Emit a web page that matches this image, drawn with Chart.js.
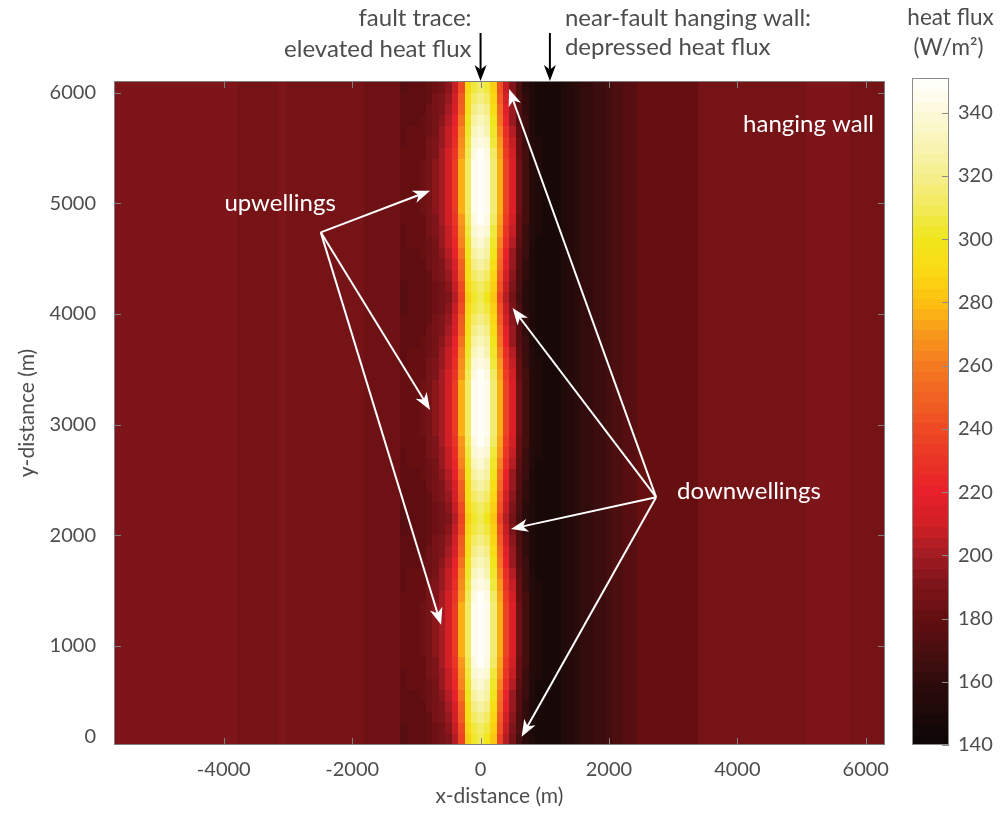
<!DOCTYPE html>
<html>
<head>
<meta charset="utf-8">
<script src="https://cdn.jsdelivr.net/npm/chart.js@4.4.1/dist/chart.umd.min.js"></script>
<style>
html,body{margin:0;padding:0;background:#fff;}
</style>
</head>
<body>
<canvas id="flux" width="1001" height="813"></canvas>
<script>
// cell edges across the fault (m): wide cells far out, 100 m cells around the trace
const xEdges = [-5710,-3800,-3150,-3030,-1810,
  -1250,-1150,-1050,-950,-850,-750,-650,-550,-450,-350,-250,-150,-50,
  50,150,250,350,450,550,650,750,850,950,1050,1150,1250,1350,1450,1550,1650,1750,1850,1950,2050,
  2215,2430,3390,5070,5420,5750,6300];

// heat flux (W/m2) in the far footwall / far hanging wall cells
const farWest = [190,188,190,187,183];
const farEast = [170,175,182,187,190,192,189];

// heat flux in the 100 m cells from -1200 to 2000 m, from the narrow "neck" rows (0)
// up to the rows through the middle of an upwelling (8)
const nearFault = [
  [176,177,177,178,181,184,187,192,203, 236,285,302,308,300,283,238, 204,187,168,157,151,148,147,147, 149,151,154,157,160,162,164,166,168],
  [176,177,177,178,182,185,188,194,207, 241,288,307,313,306,286,243, 208,190,170,158,151,148,147,147, 149,151,154,157,160,162,164,166,168],
  [177,178,178,179,182,186,190,197,211, 246,291,313,319,312,290,248, 212,193,172,160,152,149,147,147, 149,151,154,157,160,162,164,166,168],
  [177,178,178,179,183,187,192,200,215, 251,294,319,325,318,294,253, 216,196,174,161,152,149,147,147, 149,151,154,157,160,162,164,166,168],
  [178,179,179,180,184,188,194,203,219, 256,298,325,331,324,298,258, 221,199,176,163,153,149,148,148, 149,151,154,157,160,162,164,166,168],
  [179,180,180,181,185,189,196,206,224, 262,302,331,337,330,302,264, 226,203,178,164,154,149,148,148, 149,151,154,157,160,162,164,166,168],
  [179,180,180,181,186,190,198,208,228, 267,306,337,343,337,307,269, 230,207,180,166,154,150,148,148, 149,151,154,157,160,162,164,166,168],
  [180,180,181,182,187,192,200,210,231, 271,309,342,347,342,311,273, 234,210,182,168,155,150,148,148, 149,151,154,157,160,162,164,166,168],
  [180,181,182,183,188,193,202,212,234, 275,312,345,350,346,315,277, 237,213,184,169,156,150,148,148, 149,151,154,157,160,162,164,166,168]
];

// row centres along strike (m) and which profile each row follows
const rowY = [150,250,350,450,550,650,750,850,950,1050,1150,1250,1350,1450,1550,1650,1750,1850,1950,2050,
  2150,2250,2350,2450,2550,2650,2750,2850,2950,3050,3150,3250,3350,3450,3550,3650,3750,3850,3950,4050,
  4150,4250,4350,4450,4550,4650,4750,4850,4950,5050,5150,5250,5350,5450,5550,5650,5750,5850,5950,6050,6150];
const rowLevel = [0,1,2,3,4,5,6,7,8,8,8,8,8,7,6,5,4,3,2,1,
  0,1,2,3,4,5,6,7,8,8,8,8,8,7,6,5,4,3,2,1,
  0,1,2,3,4,5,6,7,8,8,8,8,8,7,6,5,4,3,2,1,0];

const xTicks = [-4000,-2000,0,2000,4000,6000];
const yTicks = [1000,2000,3000,4000,5000,6000];
const cbTicks = [140,160,180,200,220,240,260,280,300,320,340];
const fluxMin = 140, fluxMax = 350;

// annotation anchors in data units
const upwFrom = [-2489,4738];
const upwTo = [[-787,5114],[-787,3133],[-615,1190]];
const dwnFrom = [2734,2344];
const dwnTo = [[444,6033],[498,4054],[475,2057],[639,178]];
const traceX = 0, hwX = 1080;

// colour map, black -> dark red -> red -> orange -> yellow -> white
const hotStops = [
  [140,[13,5,5]],[150,[28,9,9]],[160,[46,12,12]],[170,[74,14,16]],[180,[100,14,16]],
  [190,[123,20,25]],[200,[162,28,34]],[210,[210,31,38]],[220,[232,32,42]],[230,[234,51,38]],
  [240,[238,74,36]],[250,[241,98,34]],[260,[244,122,32]],[270,[248,152,28]],[280,[253,192,16]],
  [290,[250,219,20]],[300,[240,230,28]],[310,[242,234,88]],[320,[245,239,140]],[330,[248,244,180]],
  [340,[252,249,218]],[350,[255,255,255]]
];
const nLevels = 64;

function fluxColor(v){
  let k = Math.floor((v - fluxMin) / (fluxMax - fluxMin) * nLevels);
  k = Math.max(0, Math.min(nLevels - 1, k));
  const q = fluxMin + (k + 0.5) * (fluxMax - fluxMin) / nLevels;
  for (let i = 0; i < hotStops.length - 1; i++) {
    const a = hotStops[i], b = hotStops[i + 1];
    if (q >= a[0] && q <= b[0]) {
      const t = (q - a[0]) / (b[0] - a[0]);
      const c = a[1].map((c0, j) => Math.round(c0 + t * (b[1][j] - c0)));
      return 'rgb(' + c.join(',') + ')';
    }
  }
  return 'rgb(255,255,255)';
}

const FONT = 'Lato, "Open Sans", sans-serif';
const GREY = '#4d4d4d';

const heatmap = {
  id: 'heatmap',
  beforeDatasetsDraw(chart) {
    const {ctx, chartArea: a} = chart;
    const xs = chart.scales.x, ys = chart.scales.y;
    ctx.save();
    ctx.beginPath();
    ctx.rect(a.left, a.top, a.right - a.left, a.bottom - a.top);
    ctx.clip();
    for (let i = 0; i < rowY.length; i++) {
      const row = farWest.concat(nearFault[rowLevel[i]], farEast);
      const y0 = Math.round(ys.getPixelForValue(rowY[i] + 50));
      const y1 = Math.round(ys.getPixelForValue(rowY[i] - 50));
      for (let j = 0; j < row.length; j++) {
        const x0 = Math.round(xs.getPixelForValue(xEdges[j]));
        const x1 = Math.round(xs.getPixelForValue(xEdges[j + 1]));
        ctx.fillStyle = fluxColor(row[j]);
        ctx.fillRect(x0, y0, x1 - x0, y1 - y0);
      }
    }
    ctx.restore();
  }
};

function arrow(ctx, x0, y0, x1, y1, len, half) {
  const a = Math.atan2(y1 - y0, x1 - x0);
  const c = Math.cos(a), s = Math.sin(a);
  ctx.beginPath();
  ctx.moveTo(x0, y0);
  ctx.lineTo(x1 - len * 0.7 * c, y1 - len * 0.7 * s);
  ctx.stroke();
  const bx = x1 - len * c, by = y1 - len * s;
  ctx.beginPath();
  ctx.moveTo(x1, y1);
  ctx.lineTo(bx + half * s, by - half * c);
  ctx.lineTo(x1 - len * 0.72 * c, y1 - len * 0.72 * s);
  ctx.lineTo(bx - half * s, by + half * c);
  ctx.closePath();
  ctx.fill();
}

const overlay = {
  id: 'overlay',
  afterDraw(chart) {
    const {ctx, chartArea: a} = chart;
    const xs = chart.scales.x, ys = chart.scales.y, cb = chart.scales.cb;
    ctx.save();

    // colour bar
    const cbL = cb.left + 27, cbR = cb.left + 64;
    for (let k = 0; k < nLevels; k++) {
      const v0 = fluxMin + k * (fluxMax - fluxMin) / nLevels;
      const v1 = fluxMin + (k + 1) * (fluxMax - fluxMin) / nLevels;
      const p0 = Math.round(cb.getPixelForValue(v0)), p1 = Math.round(cb.getPixelForValue(v1));
      ctx.fillStyle = fluxColor((v0 + v1) / 2);
      ctx.fillRect(cbL, p1, cbR - cbL, p0 - p1);
    }
    ctx.strokeStyle = '#8c8c8c';
    ctx.lineWidth = 1;
    ctx.strokeRect(cbL + 0.5, Math.round(cb.top) - 2.5, cbR - cbL - 1, Math.round(cb.bottom - cb.top) + 2);
    ctx.beginPath();
    cbTicks.forEach(v => {
      const p = Math.round(cb.getPixelForValue(v)) + 0.5;
      ctx.moveTo(cbR - 7, p); ctx.lineTo(cbR, p);
    });
    ctx.stroke();

    // axes box with inward ticks
    ctx.strokeStyle = '#7f7f7f';
    ctx.strokeRect(Math.round(a.left) + 0.5, Math.round(a.top) + 0.5, Math.round(a.right - a.left) - 1, Math.round(a.bottom - a.top) - 1);
    ctx.beginPath();
    xTicks.forEach(v => {
      const p = Math.round(xs.getPixelForValue(v)) + 0.5;
      ctx.moveTo(p, a.bottom); ctx.lineTo(p, a.bottom - 7);
      ctx.moveTo(p, a.top); ctx.lineTo(p, a.top + 7);
    });
    yTicks.forEach(v => {
      const p = Math.round(ys.getPixelForValue(v)) + 0.5;
      ctx.moveTo(a.left, p); ctx.lineTo(a.left + 7, p);
      ctx.moveTo(a.right, p); ctx.lineTo(a.right - 7, p);
    });
    ctx.stroke();

    // origin label of the along-strike axis
    ctx.fillStyle = GREY;
    ctx.font = '20px ' + FONT;
    ctx.textAlign = 'right';
    ctx.textBaseline = 'middle';
    ctx.fillText('0', a.left - 18, a.bottom - 8);

    // black arrows above the map
    ctx.fillStyle = '#000';
    ctx.strokeStyle = '#000';
    ctx.lineWidth = 2;
    const tx = xs.getPixelForValue(traceX), hx = xs.getPixelForValue(hwX);
    arrow(ctx, tx, 33, tx, a.top, 16, 6);
    arrow(ctx, hx, 33, hx, a.top, 16, 6);

    // captions above the map
    ctx.fillStyle = GREY;
    ctx.font = '24px ' + FONT;
    ctx.textAlign = 'right';
    ctx.fillText('fault trace:', tx - 9, 18);
    ctx.fillText('elevated heat flux', tx - 9, 49);
    ctx.textAlign = 'left';
    ctx.fillText('near-fault hanging wall:', hx + 15, 18);
    ctx.fillText('depressed heat flux', hx + 15, 47);
    ctx.font = '22.5px ' + FONT;
    ctx.textAlign = 'center';
    ctx.fillText('heat flux', (cbL + cbR) / 2 + 20, 18);
    ctx.fillText('(W/m\u00B2)', (cbL + cbR) / 2 + 18, 48);

    // white annotations on the map
    ctx.fillStyle = '#fff';
    ctx.strokeStyle = '#fff';
    ctx.lineWidth = 2;
    const px = p => [xs.getPixelForValue(p[0]), ys.getPixelForValue(p[1])];
    const u0 = px(upwFrom);
    upwTo.forEach(t => { const p = px(t); arrow(ctx, u0[0], u0[1], p[0], p[1], 17, 6.5); });
    const d0 = px(dwnFrom);
    dwnTo.forEach(t => { const p = px(t); arrow(ctx, d0[0], d0[1], p[0], p[1], 17, 6.5); });

    ctx.font = '24px ' + FONT;
    ctx.textBaseline = 'middle';
    ctx.textAlign = 'center';
    ctx.fillText('upwellings', xs.getPixelForValue(-3123), ys.getPixelForValue(5003));
    ctx.textAlign = 'right';
    ctx.fillText('hanging wall', xs.getPixelForValue(6129), ys.getPixelForValue(5717));
    ctx.textAlign = 'left';
    ctx.fillText('downwellings', xs.getPixelForValue(3061), ys.getPixelForValue(2401));
    ctx.restore();
  }
};

const tickFont = {family: FONT, size: 20};
const titleFont = {family: FONT, size: 21};

// fixed axis boxes so the map fills the same frame every time
function fixBox(w, h) {
  return s => {
    if (w !== null) s.width = w;
    if (h !== null) s.height = h;
    s.paddingTop = 0; s.paddingBottom = 0; s.paddingLeft = 0; s.paddingRight = 0;
  };
}

new Chart(document.getElementById('flux'), {
  type: 'scatter',
  data: {datasets: [{data: []}]},
  options: {
    responsive: false,
    animation: false,
    devicePixelRatio: 1,
    layout: {padding: {top: 81, left: 0, right: 0, bottom: 0}},
    plugins: {legend: {display: false}, tooltip: {enabled: false}},
    scales: {
      x: {
        type: 'linear', position: 'bottom', min: -5710, max: 6300,
        afterBuildTicks: s => { s.ticks = xTicks.map(v => ({value: v})); },
        afterFit: fixBox(null, 68),
        grid: {display: false, drawTicks: false},
        border: {display: false},
        ticks: {font: tickFont, color: GREY, padding: 13, maxRotation: 0, autoSkip: false, callback: v => String(v)},
        title: {display: true, text: 'x-distance (m)', font: titleFont, color: GREY, padding: {top: 0, bottom: 4}}
      },
      y: {
        type: 'linear', position: 'left', min: 104, max: 6106,
        afterBuildTicks: s => { s.ticks = yTicks.map(v => ({value: v})); },
        afterFit: fixBox(114, null),
        grid: {display: false, drawTicks: false},
        border: {display: false},
        ticks: {font: tickFont, color: GREY, padding: 18, autoSkip: false, callback: v => String(v)},
        title: {display: true, text: 'y-distance (m)', font: titleFont, color: GREY, padding: {top: 15, bottom: 0}}
      },
      cb: {
        type: 'linear', position: 'right', min: fluxMin, max: fluxMax,
        afterBuildTicks: s => { s.ticks = cbTicks.map(v => ({value: v})); },
        afterFit: fixBox(116, null),
        grid: {display: false, drawTicks: false},
        border: {display: false},
        ticks: {font: tickFont, color: GREY, padding: 73, autoSkip: false, callback: v => String(v)}
      }
    }
  },
  plugins: [heatmap, overlay]
});
</script>
</body>
</html>
